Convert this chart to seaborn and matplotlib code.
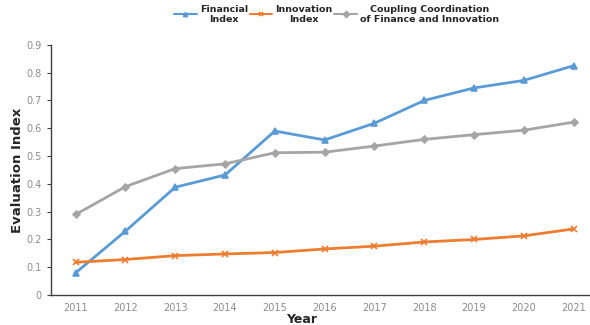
import numpy as np
import pandas as pd
import matplotlib
matplotlib.use('Agg')
from matplotlib import pyplot as plt
from matplotlib.ticker import FixedLocator, MultipleLocator, FuncFormatter
import seaborn as sns

years = [2011, 2012, 2013, 2014, 2015, 2016, 2017, 2018, 2019, 2020, 2021]
financial = [0.080, 0.230, 0.388, 0.432, 0.590, 0.558, 0.618, 0.700, 0.745, 0.772, 0.825]
innovation = [0.118, 0.128, 0.142, 0.148, 0.153, 0.166, 0.176, 0.191, 0.200, 0.213, 0.238]
coupling = [0.290, 0.390, 0.455, 0.472, 0.512, 0.514, 0.536, 0.560, 0.577, 0.593, 0.622]

labels = ['Financial\nIndex', 'Innovation\nIndex', 'Coupling Coordination\nof Finance and Innovation']
colors = ['#5B9BD5', '#ED7D31', '#A5A5A5']
markers = ['^', 'x', 'D']
msizes = [5, 5, 3.5]

sns.set_style('white')
plt.rcParams['font.family'] = ['DejaVu Sans']

fig = plt.figure(figsize=(5.9, 3.25), dpi=100)
ax = fig.add_axes([0.086, 0.092, 0.914, 0.77])

for vals, lab, c, m, ms in zip([financial, innovation, coupling], labels, colors, markers, msizes):
    df = pd.DataFrame({'Year': years, 'Value': vals})
    sns.lineplot(data=df, x='Year', y='Value', ax=ax, color=c, marker=m,
                 markersize=ms, markeredgecolor=c, markeredgewidth=1.2,
                 linewidth=2, label=lab)

ax.set_xlim(2010.5, 2021.33)
ax.set_ylim(0, 0.9)
ax.xaxis.set_major_locator(FixedLocator(years))
ax.xaxis.set_minor_locator(FixedLocator([y + 0.5 for y in years[:-1]]))
ax.yaxis.set_major_locator(MultipleLocator(0.1))
ax.yaxis.set_major_formatter(FuncFormatter(lambda v, p: '0' if abs(v) < 1e-9 else '{:.1f}'.format(v)))
ax.tick_params(axis='x', which='major', length=0, labelsize=7, labelcolor='#8c8c8c', pad=6)
ax.tick_params(axis='x', which='minor', length=3, direction='in', color='#404040')
ax.tick_params(axis='y', which='major', length=3, direction='out', labelsize=7,
               labelcolor='#8c8c8c', color='#404040', left=True)
for s in ['top', 'right']:
    ax.spines[s].set_visible(False)
for s in ['left', 'bottom']:
    ax.spines[s].set_color('#404040')
    ax.spines[s].set_linewidth(1)

ax.set_xlabel('Year', fontsize=9, fontweight='bold')
ax.xaxis.set_label_coords(0.465, -0.07)
ax.set_ylabel('Evaluation Index', fontsize=9.5, fontweight='bold')
ax.yaxis.set_label_coords(-0.05, 0.5)

leg = ax.legend(loc='upper center', bbox_to_anchor=(0.53, 1.195), ncol=3, frameon=False,
                fontsize=6.8, handlelength=2.4, columnspacing=0.2, handletextpad=0.3)
for line in leg.get_lines():
    line.set_linewidth(1.5)
    line.set_markersize(3)
for t in leg.get_texts():
    t.set_ha('center')
    t.set_fontweight('bold')

fig.savefig('out.png', dpi=100)
